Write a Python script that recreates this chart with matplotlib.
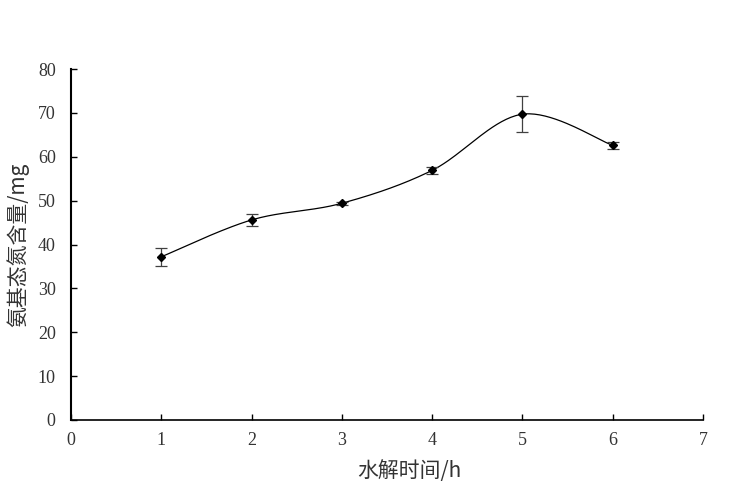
import matplotlib
matplotlib.use("Agg")
import matplotlib.pyplot as plt
import numpy as np

plt.rcParams["font.family"] = ["Liberation Serif", "Noto Sans CJK SC"]
plt.rcParams["axes.unicode_minus"] = False

hours = [1, 2, 3, 4, 5, 6]
nitrogen = [37.2, 45.6, 49.4, 56.9, 69.7, 62.6]
errors = [2.1, 1.4, 0.3, 0.8, 4.1, 0.8]

x_ticks = [0, 1, 2, 3, 4, 5, 6, 7]
y_ticks = [0, 10, 20, 30, 40, 50, 60, 70, 80]


def excel_smooth(xs, ys, n=40):
    # Excel-style smoothed line: cubic Bezier with tension 1/6
    xs = np.asarray(xs, float)
    ys = np.asarray(ys, float)
    px = np.concatenate([[xs[0]], xs, [xs[-1]]])
    py = np.concatenate([[ys[0]], ys, [ys[-1]]])
    out_x, out_y = [], []
    t = np.linspace(0, 1, n)
    for i in range(1, len(px) - 2):
        p0 = np.array([px[i], py[i]])
        p3 = np.array([px[i + 1], py[i + 1]])
        c1 = p0 + (p3 - np.array([px[i - 1], py[i - 1]])) / 6
        c2 = p3 - (np.array([px[i + 2], py[i + 2]]) - p0) / 6
        pts = ((1 - t) ** 3)[:, None] * p0 + (3 * (1 - t) ** 2 * t)[:, None] * c1 \
            + (3 * (1 - t) * t ** 2)[:, None] * c2 + (t ** 3)[:, None] * p3
        out_x.extend(pts[:, 0])
        out_y.extend(pts[:, 1])
    return np.array(out_x), np.array(out_y)


fig = plt.figure(figsize=(7.5, 4.94), dpi=100, facecolor="white")
ax = fig.add_axes([0.0947, 0.1498, 0.8426, 0.7105])

sx, sy = excel_smooth(hours, nitrogen)
ax.plot(sx, sy, color="black", linewidth=0.9, zorder=2)
ax.errorbar(hours, nitrogen, yerr=errors, fmt="none", ecolor="#404040",
            elinewidth=0.9, capsize=4, capthick=0.9, zorder=3)
ax.plot(hours, nitrogen, linestyle="none", marker="D", markersize=4.5,
        color="black", zorder=4)

ax.set_xlim(0, 7)
ax.set_ylim(0, 80)
ax.set_xticks(x_ticks)
ax.set_yticks(y_ticks)
ax.tick_params(direction="in", length=4, width=1, labelsize=13,
               colors="black", labelcolor="#333333")
ax.tick_params(axis="x", pad=9)
ax.tick_params(axis="y", pad=11)

for s in ["top", "right"]:
    ax.spines[s].set_visible(False)
ax.spines["left"].set_linewidth(1.5)
ax.spines["bottom"].set_linewidth(1.2)

ax.set_xlabel("水解时间/h", fontsize=15, family=["Noto Sans CJK SC"],
              color="#333333", va="center")
ax.set_ylabel("氨基态氮含量/mg", fontsize=15, family=["Noto Sans CJK SC"],
              color="#333333", va="center")
ax.xaxis.set_label_coords(0.535, -0.145)
ax.yaxis.set_label_coords(-0.084, 0.5)

fig.savefig("out.png", dpi=100, facecolor="white")
